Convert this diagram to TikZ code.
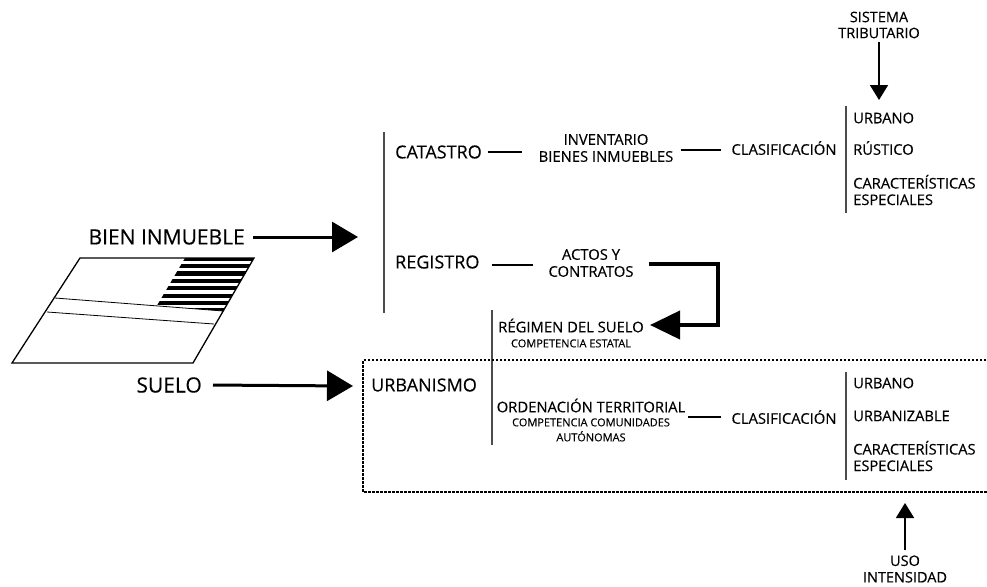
\documentclass[tikz,border=0pt]{standalone}
\usepackage{fontspec}
\setmainfont[FakeBold=0.3]{Open Sans}
\usetikzlibrary{arrows.meta}
\newcommand{\smalltxt}{\fontsize{11}{12}\selectfont}
\tikzset{
  big/.style={font=\fontsize{21}{25}\selectfont, inner sep=4pt},
  mid/.style={font=\fontsize{18}{21}\selectfont, inner sep=3pt, anchor=west},
  txt/.style={font=\fontsize{14.8}{17}\selectfont, inner sep=3pt, align=center},
  lst/.style={font=\fontsize{14.7}{16.5}\selectfont, inner sep=2pt, anchor=west, align=left},
  bar/.style={line width=1.5pt, black!70},
  link/.style={line width=1.1pt},
  fatarrow/.style={line width=3pt, -{Triangle[length=26pt,width=30pt]}},
  bendarrow/.style={line width=4pt, -{Triangle[length=30pt,width=28pt]}},
  thinarrow/.style={line width=1.8pt, -{Triangle[length=15pt,width=18pt]}}
}
\begin{document}
\begin{tikzpicture}[x=1pt, y=-1pt, line join=miter]
\useasboundingbox (0,0) rectangle (987,586);

% parcela
\begin{scope}
\clip (185,258) -- (254,258) -- (223,311) -- (157,305.5) -- cycle;
\foreach \i in {0,...,7}
  \fill (150,{256.5+\i*7.4}) rectangle (260,{260.7+\i*7.4});
\end{scope}
\draw[line width=1.3pt] (80,258) -- (254,258) -- (193,363) -- (12,363) -- cycle;
\draw[line width=0.8pt] (55,298) -- (223,311) (47,312) -- (214,324);

% entradas
\node[big, anchor=east] (bien) at (249,237) {BIEN INMUEBLE};
\node[big, anchor=east] (suelo) at (206,385) {SUELO};
\coordinate (bienTip) at (358,237);
\coordinate (sueloTip) at (353,386);
\draw[fatarrow, shorten <=4pt] (bien.east) -- (bienTip);
\draw[fatarrow, shorten <=7pt] (suelo.east) -- (sueloTip);

% catastro y registro
\draw[bar] (384,132) -- (384,313);
\node[mid] (catastro) at (392,152) {CATASTRO};
\node[mid] (registro) at (392,262) {REGISTRO};
\node[txt] (inventario) at (606,148) {INVENTARIO\\BIENES INMUEBLES};
\node[txt] (actos) at (591,263) {ACTOS Y\\CONTRATOS};
\node[txt] (clasA) at (784,148) {CLASIFICACIÓN};
\draw[link, shorten <=3pt, shorten >=14pt] (catastro.east) -- (catastro.east -| inventario.west);
\draw[link, shorten <=4pt, shorten >=7pt] (inventario.east |- 0,150) -- (clasA.west |- 0,150);
\draw[link, shorten <=9pt, shorten >=12pt] (registro.east |- 0,265) -- (actos.west |- 0,265);

% sistema tributario
\node[txt, font=\fontsize{14.5}{16}\selectfont] (sistema) at (879,25) {SISTEMA\\TRIBUTARIO};
\coordinate (sistemaTip) at (879,100);
\draw[thinarrow] (sistema.south) -- (sistemaTip);
\draw[bar] (846,106) -- (846,213);
\node[lst] (urbanoA) at (851,118) {URBANO};
\node[lst] (rustico) at (851,148) {RÚSTICO};
\node[lst] (especialesA) at (851,190) {CARACTERÍSTICAS\\ESPECIALES};

% regimen del suelo
\coordinate (bend) at (718,264);
\coordinate (regimenTip) at (650,325);
\draw[bendarrow, shorten <=12pt] (actos.east |- bend) -- (bend) |- (regimenTip);
\draw[bar] (492,310) -- (492,445);
\node[txt] (regimen) at (571,333) {RÉGIMEN DEL SUELO\\[-2pt]{\smalltxt COMPETENCIA ESTATAL}};

% urbanismo
\draw[line width=1.5pt, dash pattern=on 2.5pt off 1.5pt] (990,360) -- (363,360) -- (363,492) -- (990,492);
\node[mid] (urbanismo) at (368,385) {URBANISMO};
\node[txt] (ordenacion) at (591,420) {ORDENACIÓN TERRITORIAL\\[-3pt]{\smalltxt COMPETENCIA COMUNIDADES}\\[-2pt]{\smalltxt AUTÓNOMAS}};
\node[txt] (clasB) at (784,417) {CLASIFICACIÓN};
\draw[link, shorten >=7pt] (ordenacion.east |- 0,417) -- (clasB.west |- 0,417);
\draw[bar] (846,372) -- (846,480);
\node[lst] (urbanoB) at (851,383) {URBANO};
\node[lst] (urbanizable) at (851,416) {URBANIZABLE};
\node[lst] (especialesB) at (851,456) {CARACTERÍSTICAS\\ESPECIALES};

% uso e intensidad
\node[txt, font=\fontsize{14.5}{16.5}\selectfont] (uso) at (905,569) {USO\\INTENSIDAD};
\coordinate (usoTip) at (905,503);
\draw[thinarrow, shorten <=2pt] (uso.north) -- (usoTip);
\end{tikzpicture}
\end{document}
